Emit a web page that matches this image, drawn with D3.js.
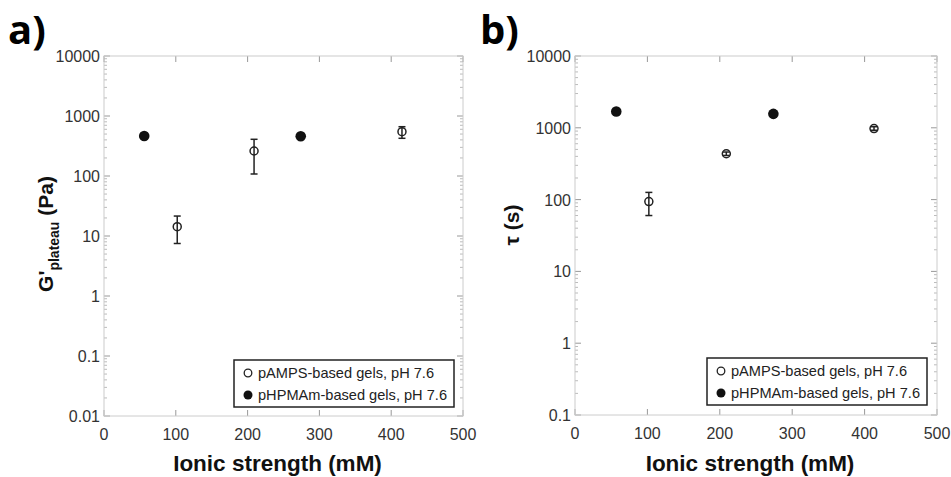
<!DOCTYPE html>
<html>
<head>
<meta charset="utf-8">
<script src="https://cdn.jsdelivr.net/npm/d3@7"></script>
<style>
  body { margin: 0; background: #fff; }
  svg { display: block; font-family: "Liberation Sans", Arial, sans-serif; }
</style>
</head>
<body>
<svg id="chart" width="951" height="477"></svg>
<script>
// ionic strength (mM)
const xTicks = [0, 100, 200, 300, 400, 500];

// panel a: G'plateau (Pa)
const aOpenX = [102, 209, 415];
const aOpenY = [14.3, 261, 548];
const aOpenLo = [7.5, 108, 425];
const aOpenHi = [21.5, 409, 663];
const aFilledX = [56, 274];
const aFilledY = [464, 460];
const aYTicks = [0.01, 0.1, 1, 10, 100, 1000, 10000];

// panel b: tau (s)
const bOpenX = [102, 209, 413];
const bOpenY = [94, 435, 977];
const bOpenLo = [60, 412, 925];
const bOpenHi = [126, 460, 1035];
const bFilledX = [57, 274];
const bFilledY = [1686, 1563];
const bYTicks = [0.1, 1, 10, 100, 1000, 10000];

const legendLabels = ["pAMPS-based gels, pH 7.6", "pHPMAm-based gels, pH 7.6"];

const svg = d3.select("#chart");

function drawPanel(opt) {
    const g = svg.append("g");
    const x = d3.scaleLinear().domain([0, 500]).range([opt.left, opt.right]);
    const y = d3.scaleLog().domain([opt.yTicks[0], opt.yTicks[opt.yTicks.length - 1]]).range([opt.bottom, opt.top]);

    // minor log ticks on left and right
    const minor = [];
    for (let i = 0; i < opt.yTicks.length - 1; i++) {
        for (let k = 2; k <= 9; k++) minor.push(opt.yTicks[i] * k);
    }
    [opt.left, opt.right].forEach((xx, side) => {
        g.selectAll(null).data(minor).enter().append("line")
            .attr("x1", xx).attr("x2", side ? xx - 3 : xx + 3)
            .attr("y1", d => y(d)).attr("y2", d => y(d))
            .attr("stroke", "#bbb").attr("stroke-width", 1);
        g.selectAll(null).data(opt.yTicks).enter().append("line")
            .attr("x1", xx).attr("x2", side ? xx - 6 : xx + 6)
            .attr("y1", d => y(d)).attr("y2", d => y(d))
            .attr("stroke", "#999").attr("stroke-width", 1);
    });
    // x ticks top and bottom
    [opt.top, opt.bottom].forEach((yy, side) => {
        g.selectAll(null).data(xTicks).enter().append("line")
            .attr("x1", d => x(d)).attr("x2", d => x(d))
            .attr("y1", yy).attr("y2", side ? yy - 6 : yy + 6)
            .attr("stroke", "#999").attr("stroke-width", 1);
    });

    // frame
    g.append("rect")
        .attr("x", opt.left).attr("y", opt.top)
        .attr("width", opt.right - opt.left).attr("height", opt.bottom - opt.top)
        .attr("fill", "none").attr("stroke", "#ccc").attr("stroke-width", 1);

    // tick labels
    g.selectAll(null).data(opt.yTicks).enter().append("text")
        .attr("x", opt.left - 4).attr("y", d => y(d) + 6)
        .attr("text-anchor", "end").attr("font-size", 16).attr("fill", "#333")
        .text(d => d3.format("~g")(d));
    g.selectAll(null).data(xTicks).enter().append("text")
        .attr("x", d => x(d)).attr("y", opt.bottom + 24)
        .attr("text-anchor", "middle").attr("font-size", 16).attr("fill", "#333")
        .text(d => d);

    // axis titles
    g.append("text")
        .attr("x", (opt.left + opt.right) / 2 - 6).attr("y", 471)
        .attr("text-anchor", "middle").attr("font-size", 22.5).attr("font-weight", "bold")
        .attr("fill", "#111")
        .text("Ionic strength (mM)");
    const yt = g.append("text")
        .attr("transform", `translate(${opt.ytX},${opt.ytY}) rotate(-90)`)
        .attr("text-anchor", "middle").attr("font-size", 21).attr("font-weight", "bold")
        .attr("fill", "#111");
    opt.yTitle(yt);

    // panel letter
    g.append("text")
        .attr("x", opt.letterX).attr("y", 44)
        .attr("font-size", 40).attr("font-weight", "bold")
        .attr("font-family", "'Open Sans', sans-serif")
        .text(opt.letter);

    // error bars
    const eb = g.selectAll(null).data(opt.openX).enter().append("g");
    eb.append("line")
        .attr("x1", d => x(d)).attr("x2", d => x(d))
        .attr("y1", (d, i) => y(opt.openLo[i])).attr("y2", (d, i) => y(opt.openHi[i]))
        .attr("stroke", "#222").attr("stroke-width", 1.5);
    ["openLo", "openHi"].forEach(k => {
        eb.append("line")
            .attr("x1", d => x(d) - 3.5).attr("x2", d => x(d) + 3.5)
            .attr("y1", (d, i) => y(opt[k][i])).attr("y2", (d, i) => y(opt[k][i]))
            .attr("stroke", "#222").attr("stroke-width", 1.5);
    });

    // open markers
    g.selectAll(null).data(opt.openX).enter().append("circle")
        .attr("cx", d => x(d)).attr("cy", (d, i) => y(opt.openY[i]))
        .attr("r", 4).attr("fill", "none").attr("stroke", "#222").attr("stroke-width", 1.5);
    // filled markers
    g.selectAll(null).data(opt.filledX).enter().append("circle")
        .attr("cx", d => x(d)).attr("cy", (d, i) => y(opt.filledY[i]))
        .attr("r", 5.3).attr("fill", "#111");

    // legend
    const lg = g.append("g");
    lg.append("rect")
        .attr("x", opt.legX).attr("y", opt.legY).attr("width", 220).attr("height", 47)
        .attr("fill", "#fff").attr("stroke", "#222").attr("stroke-width", 1.5);
    legendLabels.forEach((lab, i) => {
        const cy = opt.legY + 13 + i * 22;
        lg.append("circle")
            .attr("cx", opt.legX + 14).attr("cy", cy)
            .attr("r", i ? 4.5 : 3.8)
            .attr("fill", i ? "#111" : "none")
            .attr("stroke", i ? "none" : "#222").attr("stroke-width", 1.3);
        lg.append("text")
            .attr("x", opt.legX + 24).attr("y", cy + 5)
            .attr("font-size", 14.6).attr("fill", "#222")
            .text(lab);
    });
}

drawPanel({
    left: 104, right: 463, top: 56, bottom: 416,
    yTicks: aYTicks,
    openX: aOpenX, openY: aOpenY, openLo: aOpenLo, openHi: aOpenHi,
    filledX: aFilledX, filledY: aFilledY,
    legX: 234, legY: 360, ytX: 53, ytY: 234, letterX: 8, letter: "a)",
    yTitle: t => {
        t.append("tspan").text("G'");
        t.append("tspan").attr("font-size", 14).attr("dy", 6).text("plateau");
        t.append("tspan").attr("dy", -6).text(" (Pa)");
    }
});

drawPanel({
    left: 575, right: 937, top: 56, bottom: 415,
    yTicks: bYTicks,
    openX: bOpenX, openY: bOpenY, openLo: bOpenLo, openHi: bOpenHi,
    filledX: bFilledX, filledY: bFilledY,
    legX: 707, legY: 358, ytX: 519, ytY: 225, letterX: 480, letter: "b)",
    yTitle: t => t.text("τ (s)")
});
</script>
</body>
</html>
